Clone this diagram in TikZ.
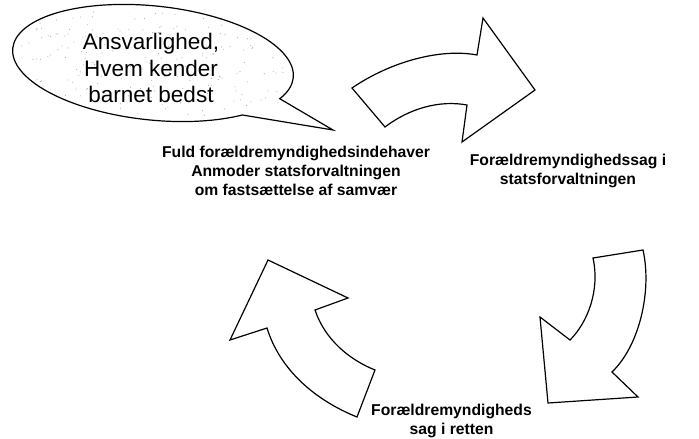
\documentclass[tikz,border=0pt]{standalone}
\usepackage{fontspec}
\setmainfont{Liberation Sans}
\begin{document}
\begin{tikzpicture}[x=1pt,y=1pt,
  lbl/.style={font=\fontsize{15.7}{19}\selectfont\bfseries, align=center, inner sep=0pt},
  bigarrow/.style={draw=black, line width=1.2pt, fill=white, line join=miter},
  bubble/.style={draw=black, line width=1.2pt, fill=white, line join=miter}]
\useasboundingbox (0,0) rectangle (699,-439);
\fill[white] (0,0) rectangle (699,-439);
% cut-off title
\node[anchor=base west, font=\fontsize{48}{48}\selectfont\bfseries, inner sep=0pt] (title) at (294,10.5) {Forældremyndighed};
% speech bubble
\coordinate (tip) at (333,-130);
\begin{scope}[shift={(153,-63)},rotate=-6]
\draw[bubble] (-23:141pt and 57pt) arc[start angle=-23, end angle=312, x radius=141pt, y radius=57pt] -- (tip) -- cycle;
\end{scope}
\begin{scope}
\clip[shift={(153,-63)},rotate=-6] (0,0) ellipse [x radius=137pt, y radius=53pt];
\pgfmathsetseed{7}
\foreach \i in {1,...,260}{\fill[gray!65] ({153+rand*140},{-63+rand*56}) circle (0.55);}
\end{scope}
\node[font=\fontsize{22.5}{26.5}\selectfont, align=center, inner sep=0pt] (bubbletext) at (151,-68) {Ansvarlighed,\\Hvem kender\\barnet bedst};
% curved arrows
\draw[bigarrow] (352,-88) .. controls (390,-62) and (440,-48) .. (477,-55) -- (483,-18) -- (535,-90) -- (462,-142) -- (467,-105) .. controls (440,-100) and (410,-108) .. (385,-127) -- cycle;
\draw[bigarrow] (593,-258) -- (643,-250) .. controls (652,-290) and (640,-345) .. (612,-372) -- (638,-397) -- (548,-403) -- (540,-317) -- (570,-340) .. controls (588,-322) and (600,-290) .. (593,-258) -- cycle;
\draw[bigarrow] (357,-417) -- (375,-370) .. controls (350,-360) and (325,-340) .. (315,-310) -- (348,-298) -- (268,-260) -- (230,-340) -- (267,-328) .. controls (280,-370) and (315,-400) .. (357,-417) -- cycle;
% labels
\node[lbl] (fuld) at (296,-170.4) {Fuld forældremyndighedsindehaver\\Anmoder statsforvaltningen\\om fastsættelse af samvær};
\node[lbl] (stat) at (568,-170.5) {Forældremyndighedssag i\\statsforvaltningen};
\node[lbl] (ret) at (451.5,-420.5) {Forældremyndigheds\\sag i retten};
\end{tikzpicture}
\end{document}
